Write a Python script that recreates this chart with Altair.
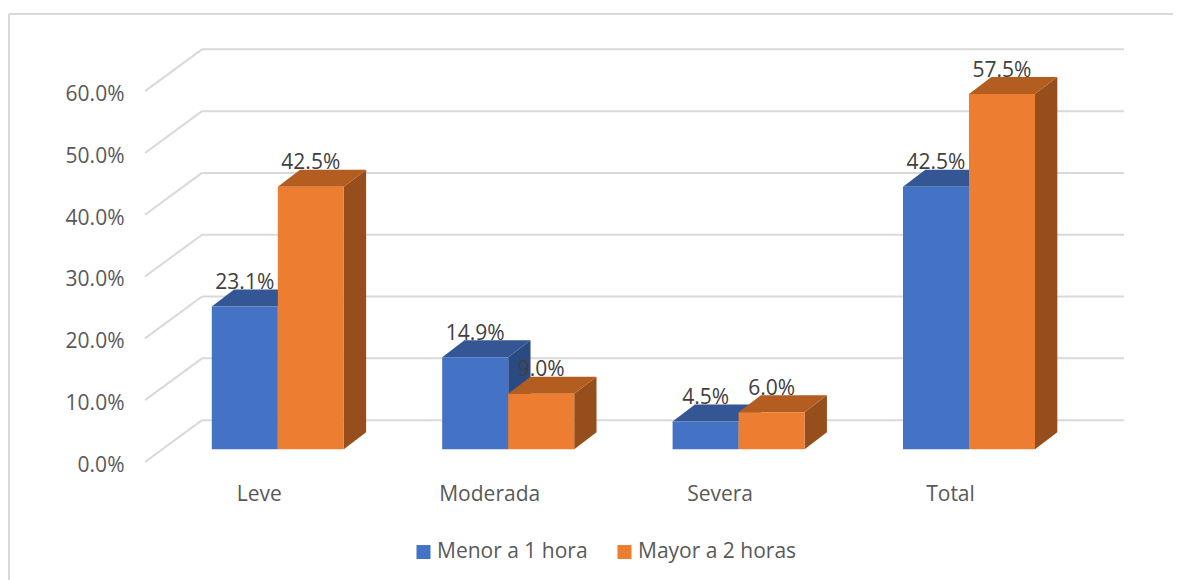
import json
import altair as alt
import pandas as pd

categories = ["Leve", "Moderada", "Severa", "Total"]
series_names = ["Menor a 1 hora", "Mayor a 2 horas"]
menor = [0.231, 0.149, 0.045, 0.425]
mayor = [0.425, 0.090, 0.060, 0.575]
tick_values = [0.0, 0.1, 0.2, 0.3, 0.4, 0.5, 0.6]

FONT = "Open Sans"
FS = 21
GRID = "#D9D9D9"
W, H = 1164, 566
BAR = 0.2865      # bar width, in category steps
DX, DY = 0.0968, 0.0275   # depth of a bar in x and y units
WALL = 0.0472     # rise of the back wall above the bar floor
FRONT = -0.0205   # drop of the wall's front edge
WALL_L, WALL_R, WALL_F = -0.329, 3.6727, -0.5764

x_scale = alt.Scale(domain=[-1.1667, 3.8854], range=[0, W], nice=False, zero=False)
y_scale = alt.Scale(domain=[-0.2115, 0.70437], range=[H, 0], nice=False, zero=False)

x_axis = alt.Axis(
    values=[0, 1, 2, 3], title=None, domain=False, ticks=False, grid=False,
    labelExpr="%s[datum.value]" % json.dumps(categories),
    labelFont=FONT, labelFontSize=FS, labelColor="#595959",
    labelPadding=0, labelBaseline="alphabetic", labelOffset=-19, offset=-79.3,
    labelFlush=False, labelOverlap=False,
)
y_axis = alt.Axis(
    values=tick_values, format=".1%", title=None, domain=False, ticks=False, grid=False,
    labelFont=FONT, labelFontSize=FS, labelColor="#595959",
    labelPadding=0, labelOffset=16, offset=-115, labelOverlap=False, labelFlush=False,
)


def X(field):
    return alt.X(field, scale=x_scale, axis=x_axis)


def Y(field):
    return alt.Y(field, scale=y_scale, axis=y_axis)


def rows(values, name, left_of):
    fronts, tops, sides = [], [], []
    for i, (c, v) in enumerate(zip(categories, values)):
        x0 = i - BAR if left_of else i
        x1 = x0 + BAR
        fronts.append(dict(cat=c, serie=name, x0=x0, x1=x1, xc=(x0 + x1) / 2, v=v, base=0.0))
        tops.append(dict(cat=c, a=x0, b=x1, y=v))
        tops.append(dict(cat=c, a=x0 + DX, b=x1 + DX, y=v + DY))
        sides.append(dict(cat=c, x=x1, y=v, y2=0.0))
        sides.append(dict(cat=c, x=x1 + DX, y=v + DY, y2=DY))
    return fronts, pd.DataFrame(tops), pd.DataFrame(sides)


f1, top1, side1 = rows(menor, series_names[0], True)
f2, top2, side2 = rows(mayor, series_names[1], False)
fronts = pd.DataFrame(f1 + f2)


def top_layer(df, color):
    return alt.Chart(df).mark_area(orient="horizontal", color=color).encode(
        x=X("a:Q"), x2="b:Q", y=Y("y:Q"), detail="cat:N",
    )


def side_layer(df, color):
    return alt.Chart(df).mark_area(orient="vertical", color=color).encode(
        x=X("x:Q"), y=Y("y:Q"), y2="y2:Q", detail="cat:N",
    )


# frame (top and left edges only)
frame_top = alt.Chart(pd.DataFrame({"k": [0]})).mark_rule(color=GRID, strokeWidth=2).encode(
    x=alt.value(0), x2=alt.value(W), y=alt.value(0))
frame_left = alt.Chart(pd.DataFrame({"k": [0]})).mark_rule(color=GRID, strokeWidth=2).encode(
    x=alt.value(0), y=alt.value(0), y2=alt.value(H))

# back wall
wall = pd.DataFrame({"t": tick_values})
wall["y"] = wall["t"] + WALL
wall["a"] = WALL_L
wall["b"] = WALL_R
back = alt.Chart(wall).mark_rule(color=GRID, strokeWidth=2).encode(
    x=X("a:Q"), x2="b:Q", y=Y("y:Q"),
)

diag = pd.DataFrame(
    [dict(t=t, x=WALL_L, y=t + WALL) for t in tick_values]
    + [dict(t=t, x=WALL_F, y=t + FRONT) for t in tick_values]
)
diagonals = alt.Chart(diag).mark_line(color=GRID, strokeWidth=2).encode(
    x=X("x:Q"), y=Y("y:Q"), detail="t:N",
)

front = alt.Chart(fronts).mark_rect().encode(
    x=X("x0:Q"), x2="x1:Q", y=Y("v:Q"), y2="base:Q",
    color=alt.Color(
        "serie:N",
        scale=alt.Scale(domain=series_names, range=["#4472C4", "#ED7D31"]),
        legend=alt.Legend(
            title=None, orient="none", direction="horizontal", columns=2,
            legendX=404, legendY=527.3, symbolType="square", symbolSize=196,
            symbolStrokeWidth=0, labelFont=FONT, labelFontSize=FS, labelColor="#595959",
            columnPadding=26, labelOffset=3, padding=0, labelLimit=300,
        ),
    ),
)

labels = alt.Chart(fronts).mark_text(
    font=FONT, fontSize=FS, color="#404040", dy=-17.4, baseline="alphabetic", align="center"
).encode(
    x=X("xc:Q"), y=Y("v:Q"), text=alt.Text("v:Q", format=".1%"),
)

chart = alt.layer(
    back, diagonals, frame_top, frame_left,
    side_layer(side1, "#2B4A82"), top_layer(top1, "#345694"),
    side_layer(side2, "#964F1C"), top_layer(top2, "#B35D21"),
    front, labels,
).properties(
    width=W, height=H,
    padding={"left": 1, "top": 6, "right": 0, "bottom": 0},
    autosize=alt.AutoSizeParams(type="none"),
    background="white",
).configure_view(stroke=None)

chart.save("out.html", embed_options={"renderer": "svg", "actions": False})
